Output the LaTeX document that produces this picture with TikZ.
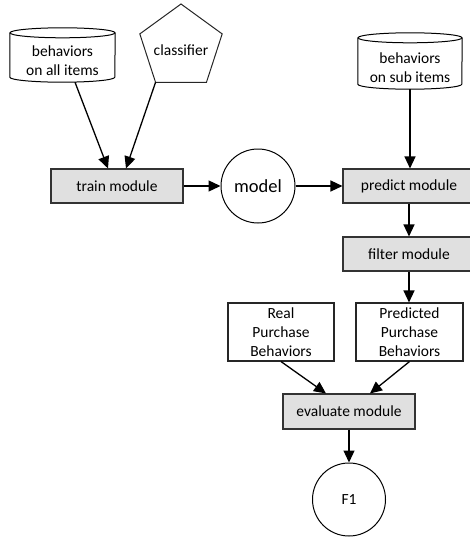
\documentclass[tikz,border=0pt]{standalone}
\usepackage{fontspec}
\setmainfont{Carlito}
\usetikzlibrary{shapes.geometric,arrows.meta,calc}
\begin{document}
\begin{tikzpicture}[x=1pt,y=-1pt,
  txt/.style={font=\fontsize{15.5}{19}\selectfont, align=center},
  modbox/.style={txt, draw=black!80, fill=black!12, line width=1.1pt, minimum width=132pt, minimum height=34pt, inner sep=0pt},
  plainbox/.style={txt, draw=black!85, line width=1.1pt, inner sep=0pt},
  circ/.style={draw=black, line width=1pt, circle, inner sep=0pt},
  cylbox/.style={txt, inner sep=0pt, minimum width=105pt, minimum height=54pt},
  conn/.style={line width=1.3pt, -{Triangle[length=12pt,width=11pt]}},
  cylline/.style={line width=1pt, draw=black}
]
\useasboundingbox (0,0) rectangle (470,538);

% cylinder: behaviors on all items
\node[cylbox] (cyla) at (62.5,55) {};
\draw[cylline] ($(cyla.north)+(0,5)$) ellipse [x radius=52.5, y radius=5];
\draw[cylline] ($(cyla.north west)+(0,5)$) -- ($(cyla.south west)+(0,-5)$)
  arc[start angle=180, end angle=0, x radius=52.5, y radius=5] -- ($(cyla.north east)+(0,5)$);
\node[txt] at (62.5,61) {behaviors\\on all items};

% classifier pentagon
\node[regular polygon, regular polygon sides=5, draw=black!85, line width=1pt, minimum size=86.6pt, inner sep=0pt, outer sep=0pt, txt] (cls) at (181,47.3) {};
\node[txt] at (181,50) {classifier};

% cylinder: behaviors on sub items
\node[cylbox, minimum width=104pt, minimum height=56pt] (cylb) at (410,61) {};
\draw[cylline] ($(cylb.north)+(0,5)$) ellipse [x radius=52, y radius=5];
\draw[cylline] ($(cylb.north west)+(0,5)$) -- ($(cylb.south west)+(0,-5)$)
  arc[start angle=180, end angle=0, x radius=52, y radius=5] -- ($(cylb.north east)+(0,5)$);
\node[txt] at (410,68) {behaviors\\on sub items};

% modules
\node[modbox] (train) at (117,186) {train module};
\node[circ, minimum size=74pt, font=\fontsize{18.5}{22}\selectfont] (model) at (258,186) {model};
\node[modbox] (pred) at (409,186) {predict module};
\node[modbox] (filt) at (409,254) {filter module};
\node[plainbox, minimum width=106pt, minimum height=58pt] (real) at (281,332) {Real\\Purchase\\Behaviors};
\node[plainbox, minimum width=107pt, minimum height=58pt] (pb) at (409.5,332) {Predicted\\Purchase\\Behaviors};
\node[modbox, minimum height=35pt] (eval) at (349,411.5) {evaluate module};
\node[circ, minimum size=73pt, txt] (f1) at (349,499.5) {F1};

% connectors
\draw[conn] ([xshift=12.5pt]cyla.south) -- ([xshift=-9pt]train.north);
\draw[conn] (cls.corner 3) -- ([xshift=9pt]train.north);
\draw[conn] (train.east) -- (model.west);
\draw[conn] (model.east) -- (pred.west);
\draw[conn] (cylb.south) -- (cylb.south |- pred.north);
\draw[conn] (pred.south) -- (filt.north);
\draw[conn] (filt.south) -- (filt.south |- pb.north);
\draw[conn] (real.south) -- ([xshift=-23pt]eval.north);
\draw[conn] (pb.south) -- ([xshift=21pt]eval.north);
\draw[conn] (eval.south) -- (f1.north);
\end{tikzpicture}
\end{document}
